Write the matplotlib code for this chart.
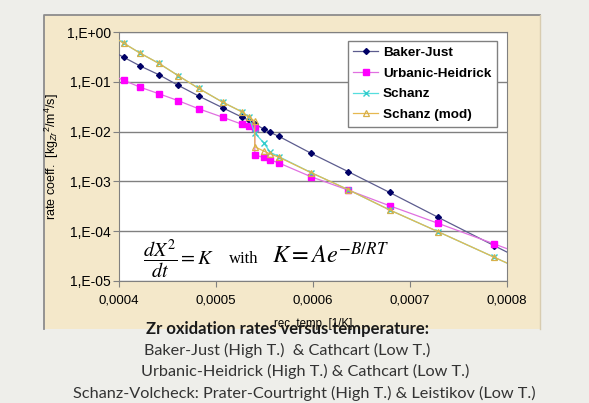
import matplotlib
matplotlib.use("Agg")
import matplotlib.pyplot as plt
from matplotlib.patches import Rectangle
from matplotlib.lines import Line2D
from matplotlib.ticker import NullLocator

# reciprocal temperature [1/K]; first and last points lie just outside the axes
inv_temp = [0.000389, 0.000405, 0.000422, 0.000441, 0.000461, 0.000482, 0.000507,
            0.000527, 0.000534, 0.000540, 0.000549, 0.000556, 0.000565,
            0.000598, 0.000636, 0.000679, 0.000729, 0.000787, 0.000853]
# same grid with the switch point (high T -> low T correlation) doubled
inv_temp_step = [0.000389, 0.000405, 0.000422, 0.000441, 0.000461, 0.000482, 0.000507,
                 0.000527, 0.000534, 0.000540, 0.000540, 0.000549, 0.000556, 0.000565,
                 0.000598, 0.000636, 0.000679, 0.000729, 0.000787, 0.000853]

baker_just = [0.455, 0.31, 0.207, 0.139, 0.085, 0.052, 0.030, 0.0194, 0.0169, 0.0142,
              0.0113, 0.0096, 0.0080, 0.00367, 0.00158, 0.00060, 0.00019, 0.000051,
              0.0000115]
urbanic = [0.146, 0.107, 0.0776, 0.0577, 0.0418, 0.0288, 0.0194, 0.0140, 0.0130,
           0.0116, 0.00339, 0.00302, 0.00269, 0.00234, 0.00124, 0.000672, 0.000324,
           0.000144, 0.0000553, 0.0000185]
schanz = [0.92, 0.593, 0.374, 0.235, 0.133, 0.074, 0.0388, 0.0248, 0.0192, 0.0094,
          0.0060, 0.00384, 0.00313, 0.00150, 0.000687, 0.000267, 0.0000977,
          0.0000299, 0.0000077]
schanz_mod = [0.92, 0.593, 0.374, 0.235, 0.133, 0.074, 0.0388, 0.0248, 0.0192, 0.0163,
              0.00497, 0.00408, 0.00355, 0.00305, 0.00150, 0.000687, 0.000267,
              0.0000977, 0.0000299, 0.0000077]

series_labels = ["Baker-Just", "Urbanic-Heidrick", "Schanz", "Schanz (mod)"]

y_ticks = [1e-5, 1e-4, 1e-3, 1e-2, 1e-1, 1e0]
y_tick_labels = ["1,E-05", "1,E-04", "1,E-03", "1,E-02", "1,E-01", "1,E+00"]
x_ticks = [0.0004, 0.0005, 0.0006, 0.0007, 0.0008]
x_tick_labels = ["0,0004", "0,0005", "0,0006", "0,0007", "0,0008"]

caption_title = "Zr oxidation rates versus temperature:"
caption_lines = [
    "Baker-Just (High T.)  & Cathcart (Low T.)",
    "Urbanic-Heidrick (High T.) & Cathcart (Low T.)",
    "Schanz-Volcheck: Prater-Courtright (High T.) & Leistikov (Low T.)",
]

plt.rcParams.update({
    "font.family": "Liberation Sans",
    "mathtext.fontset": "custom",
    "mathtext.rm": "Liberation Sans",
    "mathtext.it": "Liberation Sans:italic",
    "mathtext.bf": "Liberation Sans:bold",
})

W, H = 589, 403
fig = plt.figure(figsize=(W / 100, H / 100), dpi=100, facecolor="#eeeeea")


def fx(px):
    return px / W


def fy(py):
    return 1 - py / H


# parchment chart area with grey left/top border
fig.patches.append(Rectangle((fx(44), fy(329)), fx(540) - fx(44), fy(15) - fy(329),
                             transform=fig.transFigure, facecolor="#f4e8ca",
                             edgecolor="none", zorder=-10))
fig.lines.append(Line2D([fx(44), fx(44), fx(540)], [fy(329), fy(15), fy(15)],
                        transform=fig.transFigure, color="#8c8c8c", lw=1.3, zorder=-9))
fig.lines.append(Line2D([fx(540), fx(540)], [fy(15), fy(329)],
                        transform=fig.transFigure, color="#d8ccb0", lw=1.0, zorder=-9))

ax = fig.add_axes([fx(119), fy(281), fx(507) - fx(119), fy(32) - fy(281)])
ax.set_facecolor("white")
ax.set_yscale("log")
ax.set_xlim(0.0004, 0.0008)
ax.set_ylim(1e-5, 1)

ax.plot(inv_temp, baker_just, color="#5c5c8e", lw=0.9, marker="D", ms=3,
        mfc="#000066", mec="#000066", label=series_labels[0], zorder=3)
ax.plot(inv_temp_step, urbanic, color="#e070e0", lw=0.9, marker="s", ms=4,
        mfc="#ff00ff", mec="#ff00ff", label=series_labels[1], zorder=3)
ax.plot(inv_temp, schanz, color="#55dede", lw=0.9, marker="x", ms=4, mew=1,
        mec="#33cccc", label=series_labels[2], zorder=4)
ax.plot(inv_temp_step, schanz_mod, color="#e6b850", lw=0.9, marker="^", ms=4.5,
        mfc="none", mec="#d8b048", mew=0.9, label=series_labels[3], zorder=5)

ax.set_yticks(y_ticks, labels=y_tick_labels)
ax.yaxis.set_minor_locator(NullLocator())
ax.set_xticks(x_ticks, labels=x_tick_labels)
ax.tick_params(axis="y", length=4, pad=2, color="#808080", labelsize=10)
ax.tick_params(axis="x", length=4, pad=6, color="#808080", labelsize=9.5)
ax.grid(axis="y", color="#808080", lw=1.0)
for s in ax.spines.values():
    s.set_color("#808080")

ax.set_ylabel(r"rate coeff.  [kg$_{Zr}$$^2$/m$^4$/s]", fontsize=9, labelpad=4)
ax.set_xlabel("rec. temp  [1/K]", fontsize=8.3, labelpad=0)
ax.xaxis.set_label_coords(0.5, (281 - 318) / 249)

leg = ax.legend(loc="upper left", bbox_to_anchor=((348 - 119) / 388, (281 - 41) / 249),
                frameon=True, fancybox=False, edgecolor="#808080", framealpha=1,
                borderpad=0.4, labelspacing=0.62, handlelength=1.8,
                handletextpad=0.4, borderaxespad=0,
                prop={"family": "Liberation Sans", "weight": "bold", "size": 9.7})
leg.get_frame().set_linewidth(1.0)

# rate law annotation
fig.text(fx(143), fy(265), r"$\dfrac{dX^2}{dt}=K$", fontsize=14.5,
         math_fontfamily="stix", ha="left", va="baseline")
fig.text(fx(229), fy(263), "with", fontsize=12, family="Liberation Serif",
         ha="left", va="baseline")
fig.text(fx(272), fy(263), r"$K = Ae^{-B/RT}$", fontsize=17.5,
         math_fontfamily="stix", ha="left", va="baseline")

# caption
fig.text(fx(287), fy(329), caption_title, fontsize=12, family="Lato",
         fontweight="bold", color="#1a1a1a", ha="center", va="center")
for i, (cx, cy) in enumerate([(287, 350), (305, 371), (304, 393)]):
    fig.text(fx(cx), fy(cy), caption_lines[i], fontsize=11.7, family="Lato",
             color="#333333", ha="center", va="center")

fig.savefig("out.png", dpi=100, facecolor=fig.get_facecolor())
